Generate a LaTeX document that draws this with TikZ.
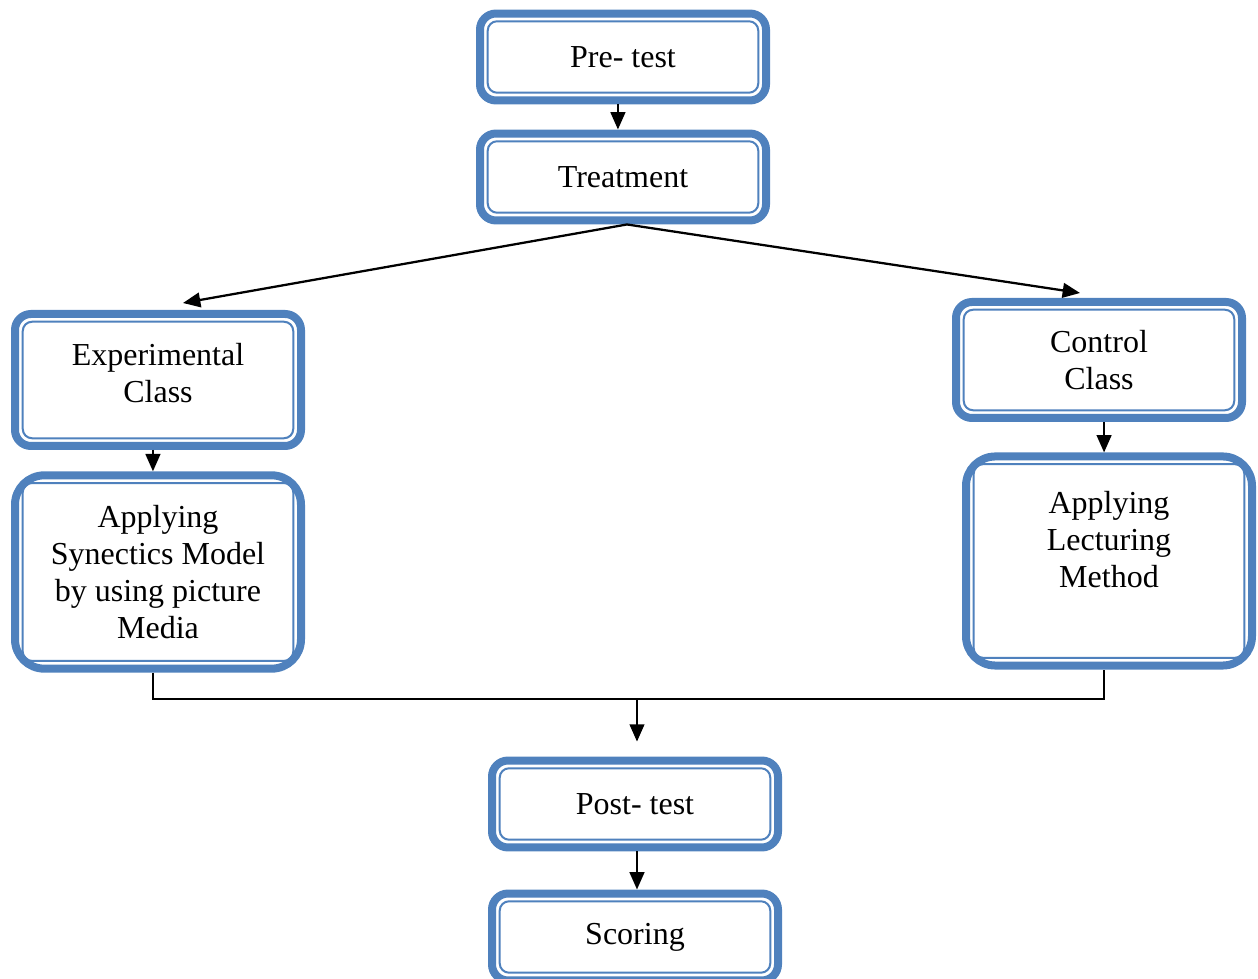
\documentclass[tikz,border=0pt]{standalone}
\usepackage{fontspec}
\setmainfont{Liberation Serif}
\usetikzlibrary{arrows.meta}
\definecolor{boxblue}{RGB}{79,129,189}

\begin{document}
\begin{tikzpicture}[x=0.375pt, y=-0.375pt,
  box/.style={draw=boxblue, line width=3pt, fill=white, rounded corners=6pt,
    align=center, inner sep=0pt, minimum width=107.25pt, minimum height=32.6pt,
    font=\fontsize{12pt}{13.8pt}\selectfont,
    path picture={\draw[boxblue, line width=0.75pt, rounded corners=3.5pt]
      ([shift={(2.9pt,2.9pt)}]path picture bounding box.south west) rectangle
      ([shift={(-2.9pt,-2.9pt)}]path picture bounding box.north east);}},
  bigbox/.style={box, rounded corners=11pt},
  arr/.style={-{Triangle[length=6.5pt,width=5.5pt]}, line width=0.85pt},
  link/.style={line width=0.85pt}]
  \clip (0,0) rectangle (1258,979);
  \node[box] (pre) at (623,57) {Pre- test};
  \node[box] (treat) at (623,177) {Treatment};
  \node[box, minimum height=49.5pt, text depth=5.5pt] (exp) at (158,380) {Experimental\\Class};
  \node[box, minimum height=43.5pt] (ctrl) at (1099,360) {Control\\Class};
  \node[bigbox, minimum height=72.5pt] (syn) at (158,572)
    {Applying\\Synectics Model\\by using picture\\Media};
  \node[bigbox, minimum height=78.4pt, text depth=16pt] (lec) at (1109,561)
    {Applying\\Lecturing\\Method};
  \node[box] (post) at (635,804) {Post- test};
  \node[box] (score) at (635,937) {Scoring};
  \coordinate (expin) at (183,303);
  \coordinate (ctrlin) at (1080,293);
  \coordinate (merge) at (637,699);
  \draw[arr] ([xshift=-1.9pt]pre.south) -- ([xshift=-1.9pt]treat.north);
  \draw[arr] ([xshift=1.5pt]treat.south) -- (expin);
  \draw[arr] ([xshift=1.5pt]treat.south) -- (ctrlin);
  \draw[arr] ([xshift=-1.9pt]exp.south) -- ([xshift=-1.9pt]syn.north);
  \draw[arr] ([xshift=1.9pt]ctrl.south) -- ([xshift=1.9pt]ctrl.south |- lec.north);
  \draw[link] ([xshift=-1.9pt]syn.south) |- (merge) -| ([xshift=-1.9pt]lec.south);
  \draw[arr] (merge) -- ([yshift=5.6pt]merge |- post.north);
  \draw[arr] ([xshift=0.75pt]post.south) -- ([xshift=0.75pt]score.north);
\end{tikzpicture}
\end{document}
